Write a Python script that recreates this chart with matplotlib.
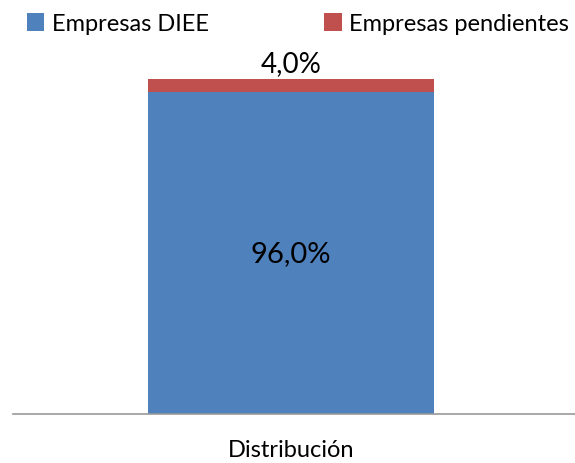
import matplotlib
matplotlib.use("Agg")
from matplotlib import pyplot as plt
from matplotlib.patches import Patch

# Define data.
categories = ["Distribución"]
series_names = ["Empresas DIEE", "Empresas pendientes"]
diee_values = [96.0]
pendientes_values = [4.0]
colors = ["#4F81BD", "#C0504D"]

plt.rcParams['font.family'] = ['Lato', 'DejaVu Sans']

fig = plt.figure(figsize=(5.75, 4.64), dpi=100)
ax = fig.add_axes([13 / 575, 1 - 415 / 464, 562 / 575, (415 - 80) / 464])

x = [-0.005]
bars1 = ax.bar(x, diee_values, width=0.509, color=colors[0])
bars2 = ax.bar(x, pendientes_values, width=0.509, bottom=diee_values, color=colors[1])

# Data labels.
for xi, v in zip(x, diee_values):
    ax.text(xi, v / 2, f"{v:.1f}%".replace(".", ","), ha='center', va='center', fontsize=21)
for xi, b, v in zip(x, diee_values, pendientes_values):
    ax.text(xi, b + v + 0.8, f"{v:.1f}%".replace(".", ","), ha='center', va='bottom', fontsize=20)

ax.set_xlim(-0.5, 0.5)
ax.set_ylim(0, 100)
ax.set_yticks([])
ax.set_xticks(x)
ax.set_xticklabels(categories, fontsize=17)
ax.tick_params(axis='x', length=0, pad=18)
for side in ['top', 'left', 'right']:
    ax.spines[side].set_visible(False)
ax.spines['bottom'].set_color('#999999')
ax.spines['bottom'].set_linewidth(1.2)

# Legend.
handles = [Patch(facecolor=c) for c in colors]
fig.legend(handles, series_names, loc='upper center', bbox_to_anchor=(0.518, 1.015), ncol=2,
           frameon=False, fontsize=17, handlelength=0.75, handleheight=0.75,
           handletextpad=0.3, columnspacing=4.9)

fig.savefig("out.png", dpi=100)
